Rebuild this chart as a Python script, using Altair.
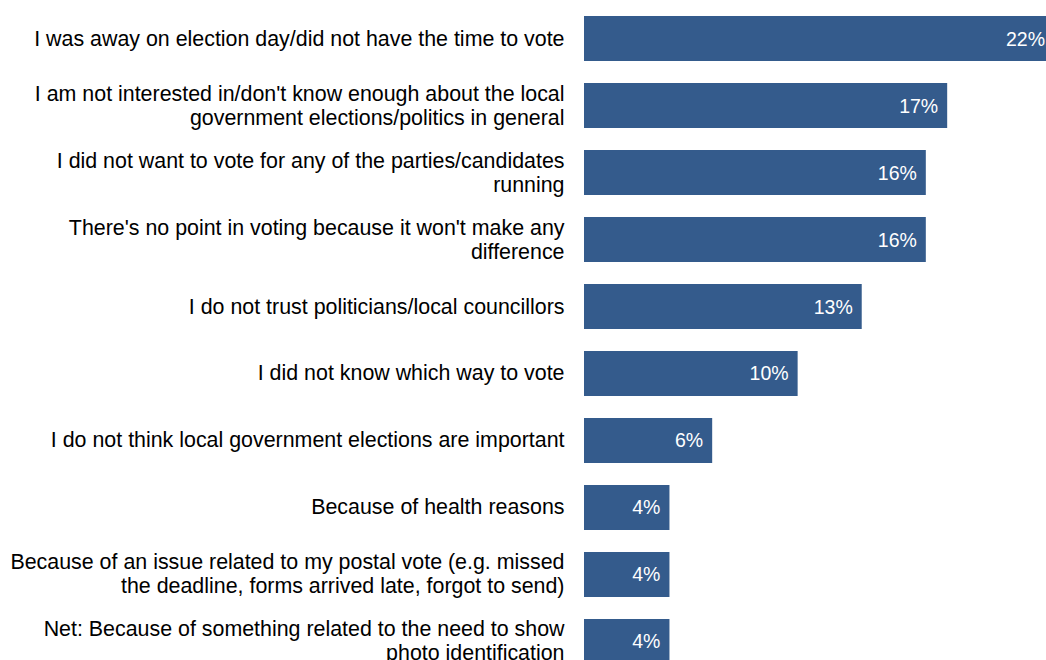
import altair as alt
import pandas as pd

categories = [
    "I was away on election day/did not have the time to vote",
    "I am not interested in/don't know enough about the local|government elections/politics in general",
    "I did not want to vote for any of the parties/candidates|running",
    "There's no point in voting because it won't make any|difference",
    "I do not trust politicians/local councillors",
    "I did not know which way to vote",
    "I do not think local government elections are important",
    "Because of health reasons",
    "Because of an issue related to my postal vote (e.g. missed|the deadline, forms arrived late, forgot to send)",
    "Net: Because of something related to the need to show|photo identification",
]
values = [22, 17, 16, 16, 13, 10, 6, 4, 4, 4]
labels = ["22%", "17%", "16%", "16%", "13%", "10%", "6%", "4%", "4%", "4%"]

df = pd.DataFrame({"cat": categories, "val": values, "lab": labels})

FONT = "Liberation Sans"

y = alt.Y(
    "cat:N",
    sort=None,
    title=None,
    scale=alt.Scale(paddingInner=0.328, paddingOuter=0.24, range=[0, 680]),
    axis=alt.Axis(
        domain=False,
        ticks=False,
        grid=False,
        labelExpr="split(datum.label, '|')",
        labelFont=FONT,
        labelFontSize=21.4,
        labelColor="#000000",
        labelPadding=20,
        labelLimit=0,
        labelLineHeight=24,
        labelOffset={"condition": {"test": "indexof(datum.label, '|') >= 0", "value": -11}, "value": 1},
    ),
)
x = alt.X(
    "val:Q",
    title=None,
    scale=alt.Scale(domain=[0, 22], nice=False, range=[0, 470]),
    axis=None,
)

bars = alt.Chart(df).mark_bar(color="#345b8c").encode(x=x, y=y)
text = alt.Chart(df).mark_text(
    align="right", baseline="middle", dx=-9, dy=1, color="#ffffff", font=FONT, fontSize=19.5
).encode(x=x, y=y, text="lab:N")

chart = (
    alt.layer(bars, text)
    .properties(
        width=462,
        height=660,
        autosize=alt.AutoSizeParams(type="none"),
        padding={"left": 584, "top": 0, "right": 0, "bottom": 0},
        view=alt.ViewBackground(stroke="transparent", strokeWidth=0, strokeOpacity=0),
    )
    .configure_view(stroke="transparent", strokeWidth=0, strokeOpacity=0)
    .configure_axis(domain=False, grid=False, ticks=False)
    .configure(background="#ffffff")
)

chart.save("out.html", embed_options={"renderer": "svg", "actions": False})
